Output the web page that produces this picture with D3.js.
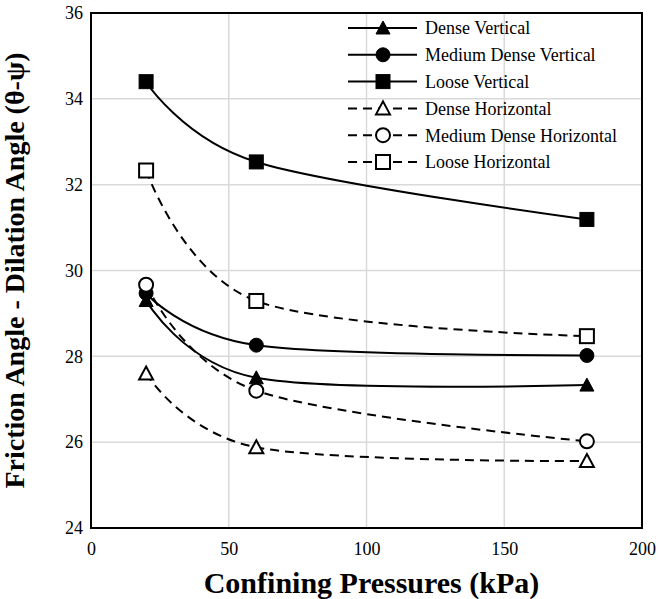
<!DOCTYPE html>
<html>
<head>
<meta charset="utf-8">
<script src="https://cdn.jsdelivr.net/npm/d3@7"></script>
<style>
  html, body { margin: 0; padding: 0; background: #fff; }
  svg { display: block; }
  text { font-family: "Liberation Serif", "Times New Roman", serif; fill: #000; }
</style>
</head>
<body>
<svg id="chart" width="658" height="599"></svg>
<script>
// Confining pressure (kPa) at which each test was run
const pressures = [20, 60, 180];

// Friction angle minus dilation angle (degrees) for each sample
const denseVertical = [29.3, 27.5, 27.33];
const mediumDenseVertical = [29.47, 28.26, 28.02];
const looseVertical = [34.4, 32.53, 31.19];
const denseHorizontal = [27.6, 25.88, 25.56];
const mediumDenseHorizontal = [29.67, 27.2, 26.02];
const looseHorizontal = [32.33, 29.29, 28.47];

const seriesNames = [
  "Dense Vertical", "Medium Dense Vertical", "Loose Vertical",
  "Dense Horizontal", "Medium Dense Horizontal", "Loose Horizontal"
];

const xTicks = [0, 50, 100, 150, 200];
const yTicks = [24, 26, 28, 30, 32, 34, 36];

const xTitle = "Confining Pressures (kPa)";
const yTitle = "Friction Angle - Dilation Angle (θ-ψ)";

const series = [
  { name: seriesNames[0], values: denseVertical, shape: "triangle", filled: true, dashed: false },
  { name: seriesNames[1], values: mediumDenseVertical, shape: "circle", filled: true, dashed: false },
  { name: seriesNames[2], values: looseVertical, shape: "square", filled: true, dashed: false },
  { name: seriesNames[3], values: denseHorizontal, shape: "triangle", filled: false, dashed: true },
  { name: seriesNames[4], values: mediumDenseHorizontal, shape: "circle", filled: false, dashed: true },
  { name: seriesNames[5], values: looseHorizontal, shape: "square", filled: false, dashed: true }
];

const serif = "'Liberation Serif', 'Times New Roman', serif";
const svg = d3.select("#chart");
const plot = { left: 91, right: 642, top: 13, bottom: 528 };

const x = d3.scaleLinear().domain([0, 200]).range([plot.left, plot.right]);
const y = d3.scaleLinear().domain([24, 36]).range([plot.bottom, plot.top]);

// Gridlines
const grid = svg.append("g");
grid.selectAll("line.gx").data(xTicks.slice(1, -1)).join("line")
  .attr("x1", d => x(d)).attr("x2", d => x(d))
  .attr("y1", plot.top).attr("y2", plot.bottom)
  .attr("stroke", "#d9d9d9").attr("stroke-width", 1.5);
grid.selectAll("line.gy").data(yTicks.slice(1, -1)).join("line")
  .attr("y1", d => y(d)).attr("y2", d => y(d))
  .attr("x1", plot.left).attr("x2", plot.right)
  .attr("stroke", "#d9d9d9").attr("stroke-width", 1.5);

// Axes (labels only; frame drawn separately)
const xAxis = d3.axisBottom(x).tickValues(xTicks).tickSize(0).tickPadding(14);
const gx = svg.append("g").attr("transform", `translate(0,${plot.bottom})`).call(xAxis)
  .attr("font-family", serif).attr("font-size", 18);
gx.select(".domain").remove();
gx.selectAll("text").style("font-family", serif).style("font-size", "18px");

const yAxis = d3.axisLeft(y).tickValues(yTicks).tickSize(0).tickPadding(8);
const gy = svg.append("g").attr("transform", `translate(${plot.left},0)`).call(yAxis)
  .attr("font-family", serif).attr("font-size", 18);
gy.select(".domain").remove();
gy.selectAll("text").style("font-family", serif).style("font-size", "18px");

// Plot frame
svg.append("rect")
  .attr("x", plot.left).attr("y", plot.top)
  .attr("width", plot.right - plot.left).attr("height", plot.bottom - plot.top)
  .attr("fill", "none").attr("stroke", "#000").attr("stroke-width", 2);

// Axis titles
svg.append("text")
  .attr("x", (plot.left + plot.right) / 2 + 5).attr("y", 593)
  .attr("text-anchor", "middle")
  .style("font-size", "30px").style("font-weight", "bold")
  .text(xTitle);

svg.append("text")
  .attr("transform", `translate(24,${(plot.top + plot.bottom) / 2}) rotate(-90)`)
  .attr("text-anchor", "middle")
  .style("font-size", "28px").style("font-weight", "bold")
  .text(yTitle);

// Marker drawing
function drawMarker(g, shape, filled) {
  const fill = filled ? "#000" : "#fff";
  const sw = filled ? 1 : 2;
  if (shape === "square") {
    g.append("rect").attr("x", -7).attr("y", -7).attr("width", 14).attr("height", 14)
      .attr("fill", fill).attr("stroke", "#000").attr("stroke-width", sw);
  } else if (shape === "circle") {
    g.append("circle").attr("r", 7)
      .attr("fill", fill).attr("stroke", "#000").attr("stroke-width", sw);
  } else {
    g.append("path").attr("d", "M0,-7L7,6L-7,6Z")
      .attr("fill", fill).attr("stroke", "#000").attr("stroke-width", sw)
      .attr("stroke-linejoin", "miter");
  }
}

// Smoothed series lines
const line = d3.line()
  .x((d, i) => x(pressures[i]))
  .y(d => y(d))
  .curve(d3.curveCardinal.tension(0));

series.forEach(s => {
  svg.append("path")
    .attr("d", line(s.values))
    .attr("fill", "none").attr("stroke", "#000").attr("stroke-width", 2)
    .attr("stroke-dasharray", s.dashed ? "9,6" : null);
});

series.forEach(s => {
  s.values.forEach((v, i) => {
    const g = svg.append("g").attr("transform", `translate(${x(pressures[i])},${y(v)})`);
    drawMarker(g, s.shape, s.filled);
  });
});

// Legend
const legend = svg.append("g");
const legX0 = 348, legX1 = 417, legMid = 383, legText = 425;
series.forEach((s, i) => {
  const ly = 28 + i * 26.8;
  legend.append("line")
    .attr("x1", legX0).attr("x2", legX1).attr("y1", ly).attr("y2", ly)
    .attr("stroke", "#000").attr("stroke-width", 2)
    .attr("stroke-dasharray", s.dashed ? "9,6" : null);
  const g = legend.append("g").attr("transform", `translate(${legMid},${ly})`);
  drawMarker(g, s.shape, s.filled);
  legend.append("text")
    .attr("x", legText).attr("y", ly).attr("dy", "0.35em")
    .style("font-family", serif)
    .style("font-size", "18px")
    .text(s.name);
});
</script>
</body>
</html>
